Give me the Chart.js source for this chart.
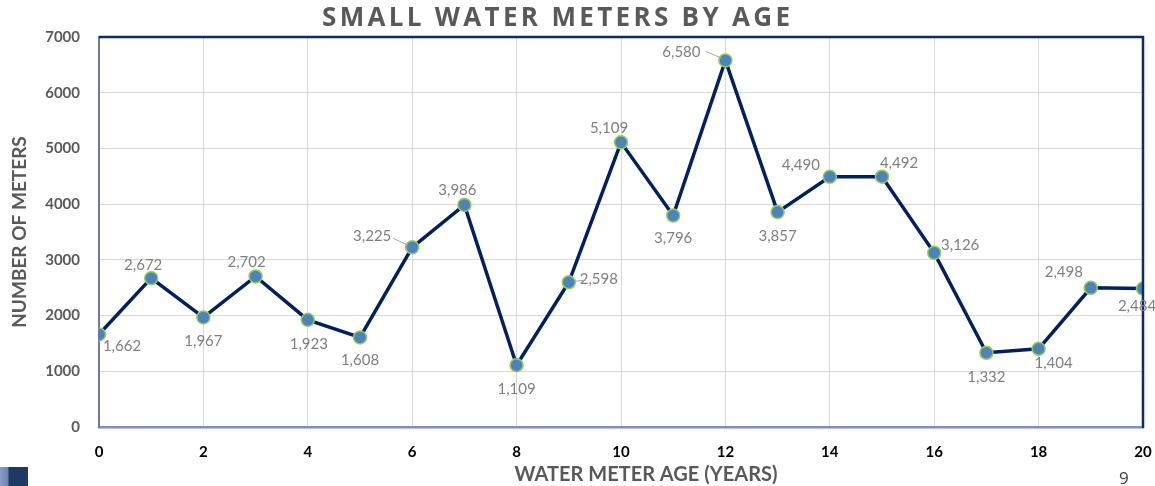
<!DOCTYPE html>
<html>
<head>
<meta charset="utf-8">
<script src="https://cdn.jsdelivr.net/npm/chart.js@4.4.0/dist/chart.umd.min.js"></script>
<style>
  html, body { margin: 0; padding: 0; background: #fff; }
  #wrap { position: relative; width: 1155px; height: 486px; }
  #deco { position: absolute; left: 0; top: 467px; width: 28px; height: 19px;
          background: linear-gradient(90deg, #8a9cc6 0, #6e82b4 8px, #1f3864 9px, #1f3864 100%); }
  #page { position: absolute; left: 1119px; top: 466px; font: 17px "Open Sans", sans-serif; color: #404040; }
</style>
</head>
<body>
<div id="wrap">
  <canvas id="chart" width="1155" height="486"></canvas>
  <div id="deco"></div>
  <div id="page">9</div>
</div>
<script>
// datos
const ages = [0,1,2,3,4,5,6,7,8,9,10,11,12,13,14,15,16,17,18,19,20];
const meters = [1662,2672,1967,2702,1923,1608,3225,3986,1109,2598,5109,3796,6580,3857,4490,4492,3126,1332,1404,2498,2484];
const yTicks = [0,1000,2000,3000,4000,5000,6000,7000];
const xTicks = [0,2,4,6,8,10,12,14,16,18,20];

// desplazamiento de cada etiqueta respecto a su punto (estilo)
const labelOffsets = [[23,12],[-8,-13],[0,24],[-9,-14],[1,24],[0,23],[-40,-11],[-7,-15],[0,24],[30,-3],
  [-12,-14],[0,23],[-44,-8],[0,24],[-29,-12],[17,-14],[26,-8],[0,24],[15,14],[-27,-16],[-6,18]];
const leaders = { 6: [[-19,-9],[-4,-2]], 9: [[17,-2],[5,-1]], 12: [[-20,-9],[-3,-2]] };

const fmt = v => v.toLocaleString('en-US');

// texto centrado con ancho fijo (espaciado de letras)
function spacedText(ctx, text, cx, cy, width) {
  ctx.letterSpacing = '0px';
  const w = ctx.measureText(text).width;
  const sp = (width - w) / (text.length - 1);
  ctx.letterSpacing = sp + 'px';
  ctx.textAlign = 'left';
  ctx.fillText(text, cx - width / 2, cy);
  ctx.letterSpacing = '0px';
  ctx.textAlign = 'center';
}

const extras = {
  id: 'extras',
  afterDraw(chart) {
    const { ctx, chartArea: a } = chart;
    ctx.save();
    // marco: arriba y derecha azul marino
    ctx.strokeStyle = '#0f2a6b';
    ctx.lineWidth = 2.5;
    ctx.beginPath();
    ctx.moveTo(a.left, a.top); ctx.lineTo(a.right, a.top); ctx.lineTo(a.right, a.bottom + 1);
    ctx.stroke();
    // títulos
    ctx.fillStyle = '#595959';
    ctx.textAlign = 'center'; ctx.textBaseline = 'middle';
    ctx.font = 'bold 26px "Open Sans"';
    spacedText(ctx, 'SMALL WATER METERS BY AGE', 556, 19, 468);
    ctx.font = 'bold 20px Lato';
    ctx.fillText('WATER METER AGE (YEARS)', 646, 475);
    // etiquetas de datos
    const pts = chart.getDatasetMeta(0).data;
    ctx.font = '15px Lato';
    ctx.fillStyle = '#7f7f7f';
    pts.forEach((p, i) => {
      const [dx, dy] = labelOffsets[i];
      ctx.fillText(fmt(meters[i]), p.x + dx, p.y + dy);
      if (leaders[i]) {
        const [s, e] = leaders[i];
        ctx.strokeStyle = '#a6a6a6'; ctx.lineWidth = 1;
        ctx.beginPath(); ctx.moveTo(p.x + s[0], p.y + s[1]); ctx.lineTo(p.x + e[0], p.y + e[1]); ctx.stroke();
      }
    });
    ctx.restore();
  }
};

new Chart(document.getElementById('chart'), {
  type: 'line',
  data: {
    datasets: [{
      data: ages.map((a, i) => ({ x: a, y: meters[i] })),
      borderColor: '#002060', borderWidth: 3.5,
      pointBackgroundColor: '#4f81bd', pointBorderColor: '#92d050',
      pointBorderWidth: 1.5, pointRadius: 6.5, tension: 0
    }]
  },
  options: {
    responsive: false, animation: false,
    layout: { padding: { top: 37, right: 12, bottom: 0, left: 0 } },
    plugins: { legend: { display: false }, tooltip: { enabled: false } },
    scales: {
      x: {
        type: 'linear', min: 0, max: 20,
        afterFit: s => { s.height = 59; s.paddingLeft = 0; s.paddingRight = 0; },
        afterBuildTicks: s => { s.ticks = xTicks.map(v => ({ value: v })); },
        grid: { color: c => (c.tick.value === 0 || c.tick.value === 20) ? 'rgba(0,0,0,0)' : '#d9d9d9', drawTicks: false },
        border: { color: '#7f8fbf', width: 2.5 },
        ticks: { color: '#000', padding: 16, font: { family: 'Lato', weight: 'bold', size: 15 } }
      },
      y: {
        min: 0, max: 7000,
        afterFit: s => { s.width = 99; s.paddingTop = 0; s.paddingBottom = 0; },
        afterBuildTicks: s => { s.ticks = yTicks.map(v => ({ value: v })); },
        grid: { color: '#d9d9d9', drawTicks: false },
        border: { color: '#6a7aab', width: 2 },
        ticks: { color: '#595959', padding: 19, callback: v => String(v),
                 font: { family: 'Lato', weight: 'bold', size: 15 } },
        title: { display: true, text: 'NUMBER OF METERS', color: '#595959', padding: { top: 8, bottom: 0 },
                 font: { family: 'Lato', weight: 'bold', size: 19 } }
      }
    }
  },
  plugins: [extras]
});
</script>
</body>
</html>
